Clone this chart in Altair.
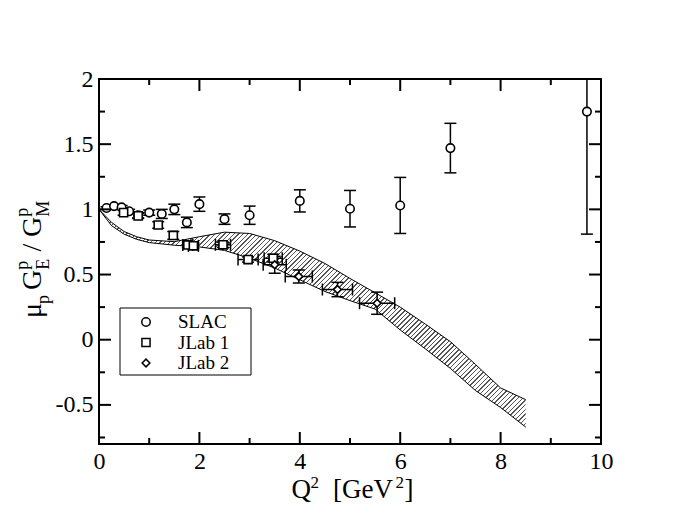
import math
import altair as alt
import pandas as pd

# ---------------- data ----------------
slac_q = [0.15, 0.30, 0.45, 0.60, 0.78, 1.00, 1.25, 1.50, 1.75, 2.00, 2.50, 3.00, 4.00, 5.00, 6.00, 7.00, 9.72]
slac_r = [1.01, 1.025, 1.015, 0.985, 0.955, 0.975, 0.965, 1.00, 0.90, 1.04, 0.925, 0.955, 1.065, 1.005, 1.03, 1.47, 1.75]
slac_dy = [0.01, 0.01, 0.015, 0.015, 0.02, 0.02, 0.035, 0.04, 0.04, 0.055, 0.04, 0.07, 0.085, 0.14, 0.215, 0.19, 0.94]

jlab1_q = [0.49, 0.78, 1.18, 1.48, 1.77, 1.88, 2.47, 2.97, 3.47]
jlab1_r = [0.975, 0.95, 0.88, 0.80, 0.727, 0.72, 0.728, 0.615, 0.625]
jlab1_dy = [0.02, 0.02, 0.025, 0.03, 0.02, 0.02, 0.02, 0.02, 0.03]
jlab1_dx = [0.0, 0.0, 0.0, 0.0, 0.1, 0.1, 0.15, 0.2, 0.18]

jlab2_q = [3.50, 3.98, 4.75, 5.54]
jlab2_r = [0.575, 0.485, 0.385, 0.28]
jlab2_dy = [0.065, 0.05, 0.055, 0.085]
jlab2_dx = [0.23, 0.27, 0.30, 0.35]

band_q = [0.0, 0.25, 0.5, 0.75, 1.0, 1.5, 2.0, 2.5, 3.0, 3.5, 4.0, 4.5, 5.0, 5.5, 6.0, 6.5, 7.0, 7.5, 8.0, 8.5]
band_hi = [1.0, 0.90, 0.83, 0.79, 0.765, 0.752, 0.79, 0.825, 0.815, 0.76, 0.68, 0.585, 0.47, 0.36, 0.25, 0.12, -0.015, -0.19, -0.37, -0.46]
band_lo = [1.0, 0.875, 0.81, 0.77, 0.745, 0.725, 0.712, 0.685, 0.625, 0.55, 0.46, 0.37, 0.30, 0.235, 0.075, -0.07, -0.22, -0.39, -0.52, -0.67]

series_names = ["SLAC", "JLab 1", "JLab 2"]
series_shapes = ["circle", "square", "diamond"]
x_major = [0, 2, 4, 6, 8, 10]
x_minor = [1, 3, 5, 7, 9]
y_major = [-0.5, 0, 0.5, 1, 1.5, 2]
y_minor = [-0.75, -0.25, 0.25, 0.75, 1.25, 1.75]

# ---------------- layout ----------------
W, H = 502, 365
OX, OY = 99, 79          # plot origin in page pixels
X_DOM = [0, 10]
Y_DOM = [-0.8, 2]
FONT = "Liberation Serif"

xs = alt.Scale(domain=X_DOM, nice=False, zero=False)
ys = alt.Scale(domain=Y_DOM, nice=False, zero=False)
shape_scale = alt.Scale(domain=series_names, range=series_shapes)

axis_common = dict(ticks=False, tickSize=0, domain=False, grid=False, labelFlush=False,
                   labelOverlap=False, labelFont=FONT, labelFontSize=24, labelColor="black", title="")
XA = alt.Axis(values=x_major, labelPadding=5, **axis_common)
YA = alt.Axis(values=y_major, labelPadding=6, labelExpr="toString(datum.value)", **axis_common)


def X(f):
    return alt.X(f, scale=xs, axis=XA, title="")


def Y(f):
    return alt.Y(f, scale=ys, axis=YA, title="")


# hatch pattern for the band, built as a striped linear gradient
px_x = W / (X_DOM[1] - X_DOM[0])
px_y = H / (Y_DOM[1] - Y_DOM[0])
bw = (max(band_q) - min(band_q)) * px_x
bh = (max(band_hi) - min(band_lo)) * px_y
rr = bh / bw
ga = (1 + rr) / (1 + rr * rr)
gb = rr * ga
D = (bw + bh) / math.sqrt(2)
period = 3.3
nstr = int(D / period)
stops = []
for k in range(nstr):
    o0 = k / nstr
    o1 = (k + 0.3) / nstr
    o2 = (k + 1) / nstr
    stops += [
        {"offset": o0, "color": "#555555"},
        {"offset": o1, "color": "#555555"},
        {"offset": o1, "color": "#ffffff"},
        {"offset": o2, "color": "#ffffff"},
    ]
hatch = {"gradient": "linear", "x1": 0, "y1": 0, "x2": ga, "y2": gb, "stops": stops}

band = pd.DataFrame({"q": band_q, "lo": band_lo, "hi": band_hi})

rows = []
for q, r in zip(slac_q, slac_r):
    rows.append({"set": "SLAC", "q": q, "r": r})
for q, r in zip(jlab1_q, jlab1_r):
    rows.append({"set": "JLab 1", "q": q, "r": r})
for q, r in zip(jlab2_q, jlab2_r):
    rows.append({"set": "JLab 2", "q": q, "r": r})
points = pd.DataFrame(rows)

vrows = []
for q, r, d in zip(slac_q + jlab1_q + jlab2_q, slac_r + jlab1_r + jlab2_r, slac_dy + jlab1_dy + jlab2_dy):
    vrows.append({"q": q, "lo": r - d, "hi": r + d})
verr = pd.DataFrame(vrows)

hrows = []
for q, r, d in zip(jlab1_q + jlab2_q, jlab1_r + jlab2_r, jlab1_dx + jlab2_dx):
    if d > 0:
        hrows.append({"r": r, "lo": q - d, "hi": q + d})
herr = pd.DataFrame(hrows)

area = alt.Chart(band).mark_area(fill=hatch, opacity=1).encode(x=X("q:Q"), y=Y("hi:Q"), y2="lo:Q")
hi_line = alt.Chart(band).mark_line(color="black", strokeWidth=1).encode(x=X("q:Q"), y=Y("hi:Q"))
lo_line = alt.Chart(band).mark_line(color="black", strokeWidth=1).encode(x=X("q:Q"), y=Y("lo:Q"))

eb = dict(color="black", strokeWidth=1.5, clip=True)
vbar = alt.Chart(verr).mark_rule(**eb).encode(x=X("q:Q"), y=Y("lo:Q"), y2="hi:Q")
vcap1 = alt.Chart(verr).mark_rule(xOffset=-6, x2Offset=6, **eb).encode(x=X("q:Q"), x2="q:Q", y=Y("lo:Q"))
vcap2 = alt.Chart(verr).mark_rule(xOffset=-6, x2Offset=6, **eb).encode(x=X("q:Q"), x2="q:Q", y=Y("hi:Q"))
hbar = alt.Chart(herr).mark_rule(**eb).encode(x=X("lo:Q"), x2="hi:Q", y=Y("r:Q"))
hcap1 = alt.Chart(herr).mark_rule(yOffset=-6, y2Offset=6, **eb).encode(x=X("lo:Q"), y=Y("r:Q"), y2="r:Q")
hcap2 = alt.Chart(herr).mark_rule(yOffset=-6, y2Offset=6, **eb).encode(x=X("hi:Q"), y=Y("r:Q"), y2="r:Q")

pts = alt.Chart(points).mark_point(filled=True, fill="white", stroke="black", strokeWidth=1.6, opacity=1).encode(
    x=X("q:Q"),
    y=Y("r:Q"),
    shape=alt.Shape("set:N", scale=shape_scale, legend=None),
    size=alt.Size("set:N", scale=alt.Scale(domain=series_names, range=[72, 60, 95]), legend=None),
)

# ---- legend (drawn by hand: box, symbols, labels) ----
one = pd.DataFrame({"k": [0]})
box = alt.Chart(one).mark_rect(fill="white", stroke="black", strokeWidth=1).encode(
    x=alt.value(120 - OX), x2=alt.value(251 - OX), y=alt.value(308 - OY), y2=alt.value(375 - OY))
leg = pd.DataFrame({
    "set": series_names,
    "sx": [146 - OX] * 3,
    "tx": [178 - OX] * 3,
    "ly": [322 - OY, 342.5 - OY, 363 - OY],
})
leg_sym = alt.Chart(leg).mark_point(filled=True, fill="white", stroke="black", strokeWidth=1.5, opacity=1).encode(
    x=alt.X("sx:Q", scale=None), y=alt.Y("ly:Q", scale=None),
    shape=alt.Shape("set:N", scale=shape_scale, legend=None),
    size=alt.Size("set:N", scale=alt.Scale(domain=series_names, range=[45, 40, 60]), legend=None),
)
leg_txt = alt.Chart(leg).mark_text(align="left", baseline="middle", font=FONT, fontSize=19, color="black").encode(
    x=alt.X("tx:Q", scale=None), y=alt.Y("ly:Q", scale=None), text="set:N")

# ---- inward ticks on all four sides ----
tk = dict(color="black", strokeWidth=2)
xM = pd.DataFrame({"v": x_major})
xm = pd.DataFrame({"v": x_minor})
yM = pd.DataFrame({"v": y_major})
ym = pd.DataFrame({"v": y_minor})
ticks = [
    alt.Chart(xM).mark_rule(**tk).encode(x=X("v:Q"), y=alt.value(H), y2=alt.value(H - 12)),
    alt.Chart(xM).mark_rule(**tk).encode(x=X("v:Q"), y=alt.value(0), y2=alt.value(12)),
    alt.Chart(xm).mark_rule(**tk).encode(x=X("v:Q"), y=alt.value(H), y2=alt.value(H - 6)),
    alt.Chart(xm).mark_rule(**tk).encode(x=X("v:Q"), y=alt.value(0), y2=alt.value(6)),
    alt.Chart(yM).mark_rule(**tk).encode(y=Y("v:Q"), x=alt.value(0), x2=alt.value(12)),
    alt.Chart(yM).mark_rule(**tk).encode(y=Y("v:Q"), x=alt.value(W), x2=alt.value(W - 12)),
    alt.Chart(ym).mark_rule(**tk).encode(y=Y("v:Q"), x=alt.value(0), x2=alt.value(6)),
    alt.Chart(ym).mark_rule(**tk).encode(y=Y("v:Q"), x=alt.value(W), x2=alt.value(W - 6)),
]

# ---- axis titles with real sub/superscripts ----
# x title: Q^2  [GeV^2]
xt = pd.DataFrame({
    "t": ["Q", "2", "[GeV", "2", "]"],
    "px": [291.5 - OX, 310.5 - OX, 333 - OX, 395.5 - OX, 404.5 - OX],
    "py": [498 - OY, 488 - OY, 498 - OY, 488 - OY, 498 - OY],
    "fs": [27, 17, 27, 17, 27],
})
xtitle = alt.Chart(xt).mark_text(align="left", baseline="alphabetic", font=FONT, color="black").encode(
    x=alt.X("px:Q", scale=None), y=alt.Y("py:Q", scale=None), text="t:N", size=alt.Size("fs:Q", scale=None))

# y title: mu_p G^p_E / G^p_M (rotated, reading upward)
title_parts = pd.DataFrame({
    "t": ["μ", "p", "G", "p", "E", "/", "G", "p", "M"],
    "px": [41 - OX, 49 - OX, 41 - OX, 28 - OX, 49 - OX, 41 - OX, 41 - OX, 28 - OX, 49 - OX],
    "py": [318 - OY, 304 - OY, 290 - OY, 269.8 - OY, 269.8 - OY, 251.5 - OY, 237 - OY, 216.8 - OY, 216.8 - OY],
    "fs": [28, 18, 28, 18, 18, 28, 28, 18, 18],
})
ytitle = alt.Chart(title_parts).mark_text(angle=270, align="left", baseline="alphabetic", font=FONT,
                                          color="black").encode(
    x=alt.X("px:Q", scale=None), y=alt.Y("py:Q", scale=None), text="t:N", size=alt.Size("fs:Q", scale=None))

chart = alt.layer(
    area, hi_line, lo_line, vbar, vcap1, vcap2, hbar, hcap1, hcap2, pts,
    box, leg_sym, leg_txt, *ticks, xtitle, ytitle
).properties(
    width=W, height=H,
    autosize=alt.AutoSizeParams(type="none"),
    padding={"left": 91, "top": 71, "right": 68, "bottom": 71},
    background="white",
).configure_view(stroke="black", strokeWidth=2)

chart.save("out.html", embed_options={"renderer": "svg", "actions": False})
